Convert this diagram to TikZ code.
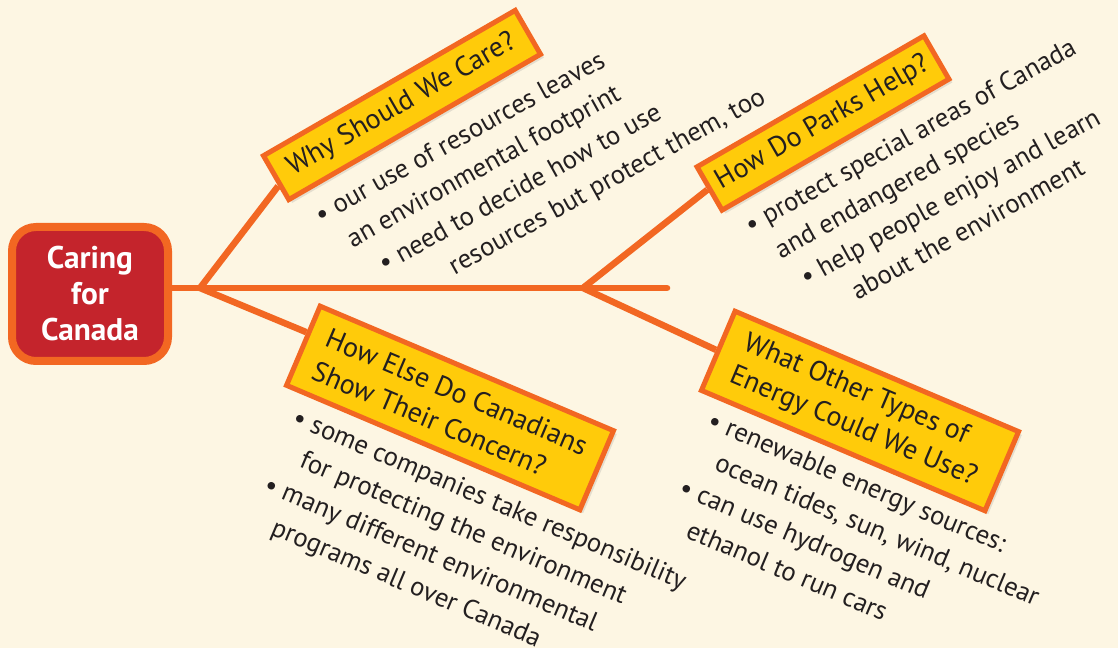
\documentclass[tikz,border=0pt]{standalone}
\usepackage{fontspec}
\setmainfont{PT Sans}
\usepackage{tikz}
\usepackage{xcolor}
\usetikzlibrary{shadows,backgrounds,calc}

\definecolor{paper}{RGB}{253,246,227}
\definecolor{branch}{RGB}{242,103,34}
\definecolor{qfill}{RGB}{255,203,10}
\definecolor{hubred}{RGB}{196,36,44}
\definecolor{ink}{RGB}{35,31,32}

\tikzset{
  limb/.style={draw=branch, line width=4.9pt},
  hub/.style={draw=branch, line width=6pt, fill=hubred, rounded corners=18pt,
    minimum width=117pt, minimum height=100.5pt, text=white, align=center,
    font=\bfseries\fontsize{23.5}{27}\selectfont,
    drop shadow={shadow xshift=2pt, shadow yshift=-2pt, opacity=0.2}},
  question/.style={draw=branch, line width=3.75pt, fill=qfill, text=ink,
    align=left, inner sep=0pt, font=\fontsize{21}{26.5}\selectfont,
    drop shadow={shadow xshift=2.5pt, shadow yshift=-2.5pt, opacity=0.2}},
  notes/.style={anchor=base west, inner sep=0pt, align=left, text=ink,
    font=\fontsize{20}{27.4}\selectfont},
}

\begin{document}
\begin{tikzpicture}[x=0.75pt,y=0.75pt,yscale=-1,xscale=1]
\useasboundingbox (0,0) rectangle (1118,648);

%Hub
\node[hub] (hub) at (90,294) {Caring\\for\\Canada};

%Forks of the main line
\coordinate (fork1) at (200,288);
\coordinate (fork2) at (583,288);
\coordinate (tip) at (667,288);

%Question boxes
\node[question, rotate=30, minimum width=218pt, minimum height=38pt] (why) at (402,105) {Why Should We Care?};
\node[question, rotate=30, minimum width=196.5pt, minimum height=37.5pt] (parks) at (823,123) {How Do Parks Help?};
\node[question, rotate=-23, minimum width=239pt, minimum height=64.5pt] (else) at (450,408) {How Else Do Canadians\\Show Their Concern?};
\node[question, rotate=-23, minimum width=231pt, minimum height=64.5pt] (energy) at (860,411) {What Other Types of\\Energy Could We Use?};

%Bullet notes (anchored on the last line)
\node[notes, rotate=29] (why-notes) at (374,320) {\textbullet\ our use of resources leaves\\
  \hspace*{12pt}an environmental footprint\\
  \hspace*{24pt}\textbullet\ need to decide how to use\\
  \hspace*{69pt}resources but protect them, too};
\node[notes, rotate=29] (parks-notes) at (804,330) {\textbullet\ protect special areas of Canada\\
  \hspace*{10.5pt}and endangered species\\
  \hspace*{17.25pt}\textbullet\ help people enjoy and learn\\
  \hspace*{45.75pt}about the environment};
\node[notes, rotate=-23] (else-notes) at (248,525) {\textbullet\ some companies take responsibility\\
  \hspace*{17.5pt}for protecting the environment\\
  \textbullet\ many different environmental\\
  \hspace*{17.5pt}programs all over Canada};
\node[notes, rotate=-23] (energy-notes) at (663,528) {\textbullet\ renewable energy sources:\\
  \hspace*{17.5pt}ocean tides, sun, wind, nuclear\\
  \textbullet\ can use hydrogen and\\
  \hspace*{17.5pt}ethanol to run cars};

\begin{scope}[on background layer]
\fill[paper] (0,0) rectangle (1118,648);
%Main line and branches
\draw[limb, line cap=round] (hub.east |- fork1) -- (tip);
\draw[limb] (fork1) -- ($(why.north west)!0.65!(why.south west)$);
\draw[limb] (fork1) -- ($(else.north west)!0.35!(else.south west)$);
\draw[limb] (fork2) -- (parks.west);
\draw[limb] (fork2) -- (energy.west);
\end{scope}

\end{tikzpicture}
\end{document}
